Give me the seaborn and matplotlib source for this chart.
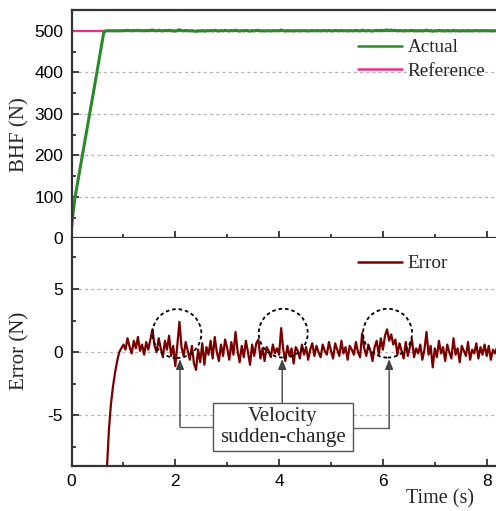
import numpy as np
import matplotlib
matplotlib.use('Agg')
import matplotlib.pyplot as plt
from matplotlib.patches import Ellipse, Rectangle
from matplotlib.ticker import MultipleLocator
import seaborn as sns

# colours
GREEN = '#2a8a2a'
PINK = '#e8308a'
DARKRED = '#7a0000'

# reference BHF (N)
ref_t = [0.0, 8.2]
ref_v = [500, 500]

# actual BHF during the loading ramp (N)
ramp_t = [0.0, 0.03, 0.07, 0.49, 0.62, 0.66, 0.80, 0.96]
ramp_v = [25, 60, 100, 400, 495, 500, 500, 500]

# tracking error (N), sampled every 0.04 s from 0.68 s
err_v = [
    -9.4, -6.2, -4.1, -2.7, -1.6, -0.7, 0.0, 0.3,
    0.6, 0.2, 1.1, 0.4, -0.1, 0.9, 0.3, 1.2, 0.1, 0.6, -0.2, 0.8, 0.2, 1.0, 1.8, 0.5, 0.0, 1.1, 0.3, -0.4, 0.9, 0.2, 1.3, -0.3, 0.5,
    -1.1, 0.6, 2.4, 0.4, -0.3, 0.8, 0.1, -0.6, 0.5, -0.9, -1.4, 0.2, -0.8, 0.7, -1.0, 0.4, -0.2, 0.9, -0.5, 1.2, 0.0, -0.7, 0.6, -0.3, 1.0,
    0.3, -0.6, 0.8, -0.2, 1.6, 0.1, -0.8, 0.5, -0.4, 0.9, 0.0, -1.0, 0.6, -0.3, 0.7, 1.0, -0.5, 0.3, -0.7, 0.4, 0.1, -0.4, 0.6, -0.1, 0.3,
    -0.2, 1.9, 0.2, -0.7, 0.5, -0.3, 0.3, -0.9, 0.4, 0.1, -0.5, 0.6, -0.2, 0.4, -0.6, 0.2, 0.7, -0.3, 0.5, 0.0, -0.4, 0.6, 0.1, -0.2, 0.8,
    0.1, -0.5, 0.7, 0.2, -0.3, 0.9, -0.1, 0.4, -0.6, 0.5, 0.2, -0.2, 0.8, 0.0, -0.4, 1.5, 0.3, -0.3, 0.6, 0.1, -0.7, 0.4, 0.9, -0.2, 1.1,
    0.2, 1.3, 1.8, 0.9, 1.4, 0.6, 1.0, -0.2, 0.7, 0.1, -0.5, 0.8, -0.3, 0.4, 1.0, -0.4, 0.3, -0.1, 0.6, -0.6, 0.2, 1.6, -0.2, 0.5, -1.2,
    0.3, -0.4, 0.9, -0.1, 0.4, -0.7, 0.6, 0.0, -0.5, 1.1, -0.2, 0.3, -0.8, 0.5, 0.1, -0.3, 0.8, -0.6, 0.2, -0.1, 0.7, -0.5, 0.4, -0.2, 0.6,
    -0.3, 0.5, -0.6, 0.2, -0.1, 0.4,
]
err_t = np.round(0.68 + 0.04 * np.arange(len(err_v)), 2)

# velocity sudden-change spots (time, error) for the dashed circles
spots_t = [2.03, 4.08, 6.09]
spots_v = [1.47, 1.5, 1.5]

# actual = reference + error once the ramp is done
after = err_t >= 1.0
act_t = np.concatenate([ramp_t, err_t[after]])
act_v = np.concatenate([ramp_v, 500 + np.array(err_v)[after]])

sns.set_theme(style='ticks')
plt.rcParams['font.family'] = ['Liberation Sans', 'DejaVu Sans']
plt.rcParams['axes.unicode_minus'] = False
SERIF = ['Liberation Serif', 'DejaVu Serif']

fig = plt.figure(figsize=(4.96, 5.11), dpi=100)
L, W = 71.5 / 496, 1 - 71.5 / 496
ax1 = fig.add_axes([L, 1 - 238.3 / 511, W, (238.3 - 10) / 511])
ax2 = fig.add_axes([L, 1 - 466 / 511, W, (466 - 238.3) / 511])

sns.lineplot(x=ref_t, y=ref_v, color=PINK, linewidth=1.6, ax=ax1, sort=False)
sns.lineplot(x=act_t, y=act_v, color=GREEN, linewidth=2.2, ax=ax1, sort=False)
sns.lineplot(x=err_t, y=err_v, color=DARKRED, linewidth=1.6, ax=ax2, sort=False)

for ax in (ax1, ax2):
    ax.set_xlim(0, (496 - 71.5) / 51.9)
    ax.xaxis.set_major_locator(MultipleLocator(2))
    ax.xaxis.set_minor_locator(MultipleLocator(1))
    ax.tick_params(which='both', direction='in', colors='#333333', width=1.3,
                   labelsize=12.5, labelcolor='black')
    ax.tick_params(which='major', length=5)
    ax.tick_params(which='minor', length=3.2)
    ax.tick_params(axis='y', pad=6)
    ax.tick_params(axis='x', pad=6)
    ax.spines['right'].set_visible(False)
    for s in ('left', 'top', 'bottom'):
        ax.spines[s].set_linewidth(1.6)
        ax.spines[s].set_color('#333333')
    ax.grid(axis='y', which='major', color='#b5b5b5', linestyle=(0, (2.5, 2.5)), linewidth=0.9)
    ax.set_axisbelow(True)
    ax.set_xlabel('')

ax2.spines['top'].set_visible(False)
ax1.tick_params(axis='x', labelbottom=False)

ax1.set_ylim(0, 550)
ax1.yaxis.set_major_locator(MultipleLocator(100))
ax1.yaxis.set_minor_locator(MultipleLocator(50))
ax2.set_ylim(-9, 9)
ax2.yaxis.set_major_locator(MultipleLocator(5))
ax2.yaxis.set_minor_locator(MultipleLocator(2.5))

ax1.set_ylabel('BHF (N)', family=SERIF, fontsize=15)
ax2.set_ylabel('Error (N)', family=SERIF, fontsize=15)
ax1.yaxis.set_label_coords(-0.1, 0.455)
ax2.yaxis.set_label_coords(-0.1, 0.505)
fig.text(474 / 496, 1 - 499 / 511, 'Time (s)', family=SERIF, fontsize=14.5,
         ha='right', va='center')

h1, = ax1.plot([], [], color=GREEN, linewidth=1.8)
h2, = ax1.plot([], [], color=PINK, linewidth=1.8)
ax1.legend([h1, h2], ['Actual', 'Reference'], loc='upper left',
           bbox_to_anchor=(358 / 496, 1 - 39 / 511), bbox_transform=fig.transFigure,
           frameon=False, prop={'family': SERIF, 'size': 13.8}, handlelength=2.3,
           handletextpad=0.3, labelspacing=0.33, borderpad=0, borderaxespad=0)
h3, = ax2.plot([], [], color=DARKRED, linewidth=1.8)
ax2.legend([h3], ['Error'], loc='upper left',
           bbox_to_anchor=(358 / 496, 1 - 255 / 511), bbox_transform=fig.transFigure,
           frameon=False, prop={'family': SERIF, 'size': 13.8}, handlelength=2.3,
           handletextpad=0.3, borderpad=0, borderaxespad=0)

# dashed circles around the velocity sudden-change spikes
for t, v in zip(spots_t, spots_v):
    ax2.add_patch(Ellipse((t, v), 0.944, 3.86, fill=False, edgecolor='black',
                          linestyle=(0, (2, 1.6)), linewidth=1.3, zorder=5))

# callout box with arrows
ax2.add_patch(Rectangle((2.73, -7.82), 5.42 - 2.73, 7.82 - 4.02, facecolor='white',
                        edgecolor='#555555', linewidth=1.0, zorder=6))
ax2.text((2.73 + 5.42) / 2, -5.95, 'Velocity\nsudden-change', family=SERIF, fontsize=15,
         ha='center', va='center', linespacing=1.15, zorder=7)
ax2.plot([2.73, 2.09], [-5.9, -5.9], color='#666666', linewidth=1.0, zorder=6)
ax2.plot([5.42, 6.12], [-6.03, -6.03], color='#666666', linewidth=1.0, zorder=6)
arrow = dict(arrowstyle='-|>,head_length=0.5,head_width=0.2', color='#444444',
             linewidth=1.0, shrinkA=0, shrinkB=0)
for x0, y0 in [(2.09, -5.9), (4.06, -4.02), (6.12, -6.03)]:
    ax2.annotate('', xy=(x0, -0.55), xytext=(x0, y0), arrowprops=arrow, zorder=6)

fig.savefig('out.png', dpi=100)
